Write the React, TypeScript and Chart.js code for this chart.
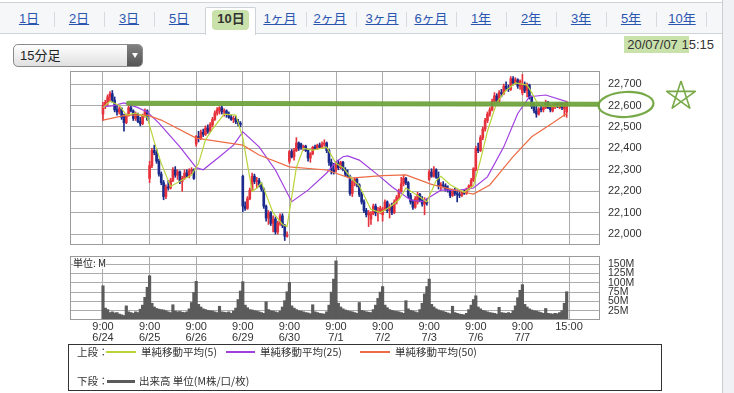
import React, { useEffect, useRef } from 'react';
import { Chart, registerables } from 'chart.js';
Chart.register(...registerables);

// ---------- labels ----------
const tabLabels = ['1日', '2日', '3日', '5日', '10日', '1ヶ月', '2ヶ月', '3ヶ月', '6ヶ月', '1年', '2年', '3年', '5年', '10年'];
const tabCenters = [29, 79, 129, 179, 231, 280, 330, 382, 431, 481, 531, 581, 631, 682];
const tabSeparators = [54, 104, 154, 306, 356, 406, 456, 506, 556, 606, 656, 706];
const selectedTab = '10日';
const dayLabels = ['6/24', '6/25', '6/26', '6/29', '6/30', '7/1', '7/2', '7/3', '7/6', '7/7'];
const dayStartLabel = '9:00';
const endLabel = '15:00';
const dayTicks = [0, 20, 40, 60, 80, 100, 120, 140, 160, 180, 200];
const priceTicks = [22000, 22100, 22200, 22300, 22400, 22500, 22600, 22700];
const volumeTicks = [25, 50, 75, 100, 125, 150];
const timestamp = '20/07/07 15:15';
const intervalLabel = '15分足';

// ---------- 15-minute OHLC (20 bars per day, 10 days) ----------
const opens = [
  22560, 22600, 22615, 22640, 22655, 22625, 22580, 22570, 22585, 22545, 22520, 22555, 22590, 22575, 22540, 22560, 22525, 22515, 22550, 22575,
  22260, 22320, 22390, 22380, 22340, 22280, 22240, 22175, 22220, 22215, 22250, 22300, 22275, 22290, 22245, 22260, 22285, 22270, 22295, 22300,
  22420, 22455, 22445, 22475, 22465, 22495, 22480, 22510, 22535, 22565, 22575, 22590, 22570, 22575, 22560, 22545, 22535, 22540, 22525, 22515,
  22270, 22130, 22120, 22165, 22205, 22270, 22245, 22250, 22230, 22210, 22130, 22075, 22100, 22050, 22070, 22010, 22050, 22085, 22040, 21990,
  22340, 22385, 22360, 22390, 22425, 22420, 22405, 22410, 22390, 22355, 22375, 22405, 22400, 22415, 22405, 22420, 22425, 22390, 22335, 22300,
  22300, 22330, 22310, 22335, 22300, 22280, 22270, 22190, 22245, 22255, 22230, 22185, 22150, 22110, 22090, 22070, 22095, 22130, 22100, 22105,
  22090, 22115, 22150, 22110, 22130, 22100, 22150, 22170, 22200, 22235, 22260, 22240, 22180, 22150, 22125, 22150, 22185, 22160, 22140, 22150,
  22255, 22290, 22270, 22300, 22265, 22225, 22230, 22225, 22210, 22205, 22180, 22200, 22190, 22185, 22180, 22195, 22190, 22210, 22225, 22250,
  22300, 22400, 22390, 22450, 22490, 22530, 22560, 22580, 22620, 22645, 22620, 22660, 22655, 22690, 22680, 22675, 22725, 22705, 22720, 22690,
  22660, 22700, 22670, 22695, 22640, 22595, 22575, 22560, 22585, 22580, 22590, 22615, 22590, 22575, 22600, 22605, 22590, 22610, 22585, 22570,
];
const highs = [
  22615, 22625, 22650, 22665, 22670, 22640, 22600, 22595, 22590, 22560, 22560, 22600, 22605, 22580, 22570, 22565, 22545, 22560, 22585, 22580,
  22340, 22400, 22415, 22395, 22350, 22290, 22250, 22230, 22250, 22260, 22310, 22315, 22300, 22295, 22270, 22300, 22300, 22305, 22310, 22305,
  22460, 22480, 22485, 22490, 22505, 22510, 22520, 22545, 22575, 22590, 22595, 22598, 22585, 22580, 22570, 22555, 22550, 22550, 22535, 22525,
  22275, 22150, 22175, 22215, 22285, 22280, 22265, 22260, 22240, 22215, 22135, 22110, 22105, 22085, 22080, 22060, 22095, 22095, 22045, 22010,
  22390, 22395, 22400, 22450, 22430, 22425, 22415, 22415, 22395, 22380, 22410, 22415, 22420, 22425, 22430, 22440, 22430, 22395, 22350, 22330,
  22340, 22345, 22340, 22340, 22310, 22300, 22275, 22250, 22262, 22260, 22235, 22195, 22160, 22120, 22110, 22105, 22140, 22140, 22125, 22130,
  22125, 22160, 22155, 22140, 22145, 22160, 22180, 22210, 22265, 22275, 22265, 22245, 22190, 22160, 22175, 22195, 22190, 22175, 22170, 22165,
  22300, 22305, 22315, 22305, 22290, 22240, 22245, 22235, 22225, 22210, 22210, 22215, 22205, 22200, 22200, 22205, 22215, 22230, 22260, 22310,
  22410, 22425, 22460, 22500, 22540, 22570, 22590, 22630, 22660, 22655, 22670, 22675, 22700, 22710, 22695, 22735, 22735, 22730, 22725, 22720,
  22745, 22710, 22705, 22700, 22645, 22610, 22600, 22590, 22600, 22595, 22625, 22620, 22600, 22605, 22610, 22612, 22615, 22615, 22610, 22620,
];
const lows = [
  22530, 22585, 22600, 22620, 22615, 22570, 22555, 22560, 22535, 22480, 22515, 22550, 22570, 22530, 22530, 22520, 22505, 22510, 22545, 22530,
  22240, 22310, 22370, 22330, 22270, 22230, 22160, 22165, 22205, 22210, 22245, 22265, 22255, 22235, 22200, 22255, 22265, 22262, 22280, 22255,
  22410, 22430, 22440, 22455, 22460, 22470, 22475, 22500, 22530, 22555, 22560, 22560, 22550, 22545, 22540, 22530, 22520, 22515, 22505, 22500,
  22105, 22110, 22115, 22160, 22200, 22235, 22215, 22220, 22200, 22120, 22060, 22045, 22040, 22010, 22000, 22000, 22040, 22030, 21970, 21985,
  22330, 22355, 22345, 22385, 22390, 22395, 22390, 22385, 22340, 22335, 22370, 22395, 22395, 22400, 22400, 22410, 22380, 22320, 22280, 22280,
  22290, 22300, 22305, 22295, 22270, 22265, 22180, 22175, 22225, 22220, 22175, 22140, 22100, 22080, 22035, 22045, 22090, 22085, 22060, 22095,
  22060, 22110, 22100, 22075, 22090, 22095, 22140, 22165, 22195, 22225, 22230, 22170, 22140, 22115, 22120, 22140, 22150, 22130, 22090, 22135,
  22250, 22265, 22265, 22260, 22210, 22205, 22215, 22200, 22195, 22170, 22175, 22180, 22150, 22170, 22175, 22185, 22185, 22205, 22220, 22245,
  22295, 22380, 22385, 22440, 22480, 22520, 22550, 22575, 22610, 22610, 22615, 22640, 22650, 22670, 22665, 22670, 22695, 22700, 22680, 22675,
  22650, 22660, 22640, 22630, 22585, 22565, 22545, 22555, 22570, 22570, 22585, 22585, 22570, 22570, 22585, 22590, 22585, 22580, 22550, 22545,
];
const closes = [
  22600, 22615, 22640, 22655, 22625, 22580, 22570, 22585, 22545, 22520, 22555, 22590, 22575, 22540, 22560, 22525, 22515, 22550, 22575, 22535,
  22320, 22390, 22380, 22340, 22280, 22240, 22175, 22220, 22215, 22250, 22300, 22275, 22290, 22245, 22260, 22285, 22270, 22295, 22300, 22260,
  22455, 22445, 22475, 22465, 22495, 22480, 22510, 22535, 22565, 22580, 22590, 22570, 22575, 22560, 22545, 22535, 22540, 22525, 22515, 22512,
  22130, 22120, 22165, 22205, 22270, 22245, 22250, 22230, 22210, 22130, 22075, 22100, 22050, 22070, 22010, 22050, 22085, 22040, 21990, 21995,
  22385, 22360, 22390, 22425, 22400, 22405, 22410, 22390, 22355, 22375, 22405, 22400, 22415, 22405, 22420, 22425, 22390, 22335, 22300, 22290,
  22330, 22310, 22335, 22300, 22280, 22270, 22190, 22245, 22255, 22230, 22185, 22150, 22110, 22090, 22100, 22095, 22130, 22100, 22105, 22120,
  22115, 22150, 22110, 22130, 22100, 22150, 22170, 22200, 22235, 22260, 22240, 22180, 22150, 22125, 22165, 22185, 22160, 22140, 22150, 22145,
  22290, 22270, 22300, 22265, 22225, 22230, 22225, 22210, 22205, 22180, 22200, 22190, 22185, 22180, 22195, 22190, 22210, 22225, 22250, 22305,
  22400, 22390, 22450, 22490, 22530, 22560, 22580, 22620, 22645, 22620, 22660, 22655, 22690, 22680, 22675, 22725, 22705, 22720, 22690, 22715,
  22700, 22670, 22695, 22640, 22595, 22575, 22560, 22585, 22580, 22590, 22615, 22590, 22580, 22600, 22605, 22595, 22610, 22590, 22605, 22615,
];

// ---------- volume (M shares) ----------
const volumes = [
  92, 32, 28, 20, 22, 19, 20, 16, 14, 12, 38, 22, 20, 18, 22, 20, 29, 40, 61, 88,
  119, 45, 35, 31, 29, 28, 27, 25, 22, 20, 41, 24, 22, 23, 21, 20, 22, 30, 47, 74,
  104, 42, 35, 30, 28, 26, 25, 24, 22, 20, 37, 22, 21, 20, 22, 18, 24, 32, 55, 78,
  103, 40, 33, 28, 27, 25, 24, 22, 20, 18, 49, 28, 25, 24, 22, 20, 24, 35, 52, 76,
  101, 38, 32, 28, 25, 24, 22, 20, 19, 17, 41, 22, 20, 18, 17, 16, 22, 40, 75, 110,
  159, 45, 35, 30, 27, 25, 23, 22, 20, 18, 47, 26, 24, 22, 21, 20, 28, 40, 58, 75,
  90, 40, 33, 28, 26, 24, 23, 22, 20, 18, 52, 30, 26, 24, 22, 20, 28, 45, 70, 90,
  110, 42, 35, 30, 27, 25, 23, 21, 19, 17, 37, 20, 18, 16, 15, 14, 18, 28, 40, 55,
  65, 35, 30, 26, 24, 22, 20, 19, 18, 16, 34, 20, 19, 18, 20, 18, 25, 38, 60, 80,
  95, 42, 35, 30, 27, 25, 24, 22, 20, 18, 31, 18, 17, 16, 18, 17, 20, 25, 45, 76,
];

// ---------- moving averages (read at bar positions) ----------
const ma5Idx = [0, 3, 7, 10, 14, 19, 22, 25, 29, 34, 38, 41, 44, 47, 52, 57, 60, 64, 66, 68, 73, 77, 79, 83, 86, 90, 96, 100, 103, 107, 110, 115, 119, 123, 127, 130, 135, 139, 143, 145, 149, 155, 159, 162, 165, 169, 173, 177, 182, 184, 187, 193, 199];
const ma5Val = [22590, 22620, 22600, 22555, 22565, 22545, 22430, 22330, 22222, 22252, 22275, 22330, 22440, 22490, 22560, 22555, 22450, 22200, 22214, 22240, 22100, 22045, 22035, 22311, 22400, 22392, 22405, 22330, 22310, 22255, 22225, 22115, 22100, 22125, 22160, 22215, 22180, 22150, 22250, 22270, 22230, 22195, 22225, 22345, 22480, 22615, 22670, 22705, 22695, 22660, 22600, 22595, 22600];
const ma25Idx = [0, 4, 9, 15, 19, 24, 33, 40, 43, 50, 56, 60, 67, 74, 81, 88, 96, 100, 103, 105, 110, 119, 124, 132, 137, 145, 153, 159, 165, 172, 178, 183, 190, 199];
const ma25Val = [22595, 22598, 22612, 22590, 22570, 22518, 22407, 22310, 22300, 22361, 22415, 22477, 22407, 22299, 22151, 22205, 22285, 22337, 22361, 22365, 22345, 22267, 22221, 22159, 22151, 22205, 22205, 22215, 22267, 22407, 22563, 22641, 22649, 22618];
const ma50Idx = [0, 10, 19, 25, 40, 50, 60, 67, 80, 96, 106, 120, 130, 141, 149, 155, 159, 166, 176, 184, 193, 199];
const ma50Val = [22532, 22555, 22555, 22532, 22448, 22431, 22415, 22369, 22314, 22299, 22261, 22273, 22276, 22232, 22210, 22195, 22187, 22229, 22361, 22454, 22518, 22563];

// hand-drawn marker line (user annotation) at ~22,600
const markIdx = [10.9, 212.6];
const markVal = [22610, 22606];

// axis ranges
const priceMin = 21949;
const priceMax = 22761;
const volMax = 172;
const xMin = -14.16;
const xMax = 213.3;

const RED = '#e5323c';
const BLUE = '#1b2b8c';
const C_MA5 = '#b9d43a';
const C_MA25 = '#a03fe0';
const C_MA50 = '#ee6c45';
const GRID = '#ababab';
const NARROW = "'Liberation Sans Narrow', 'Liberation Sans', Arial, sans-serif";
const SANS = "'Liberation Sans', Arial, 'Noto Sans CJK JP', sans-serif";
const CJK = "'Noto Sans CJK JP', 'Liberation Sans', sans-serif";

const boxPlugin = {
  id: 'plotBox',
  afterDraw(chart: any) {
    const { ctx, chartArea: a } = chart;
    ctx.save();
    ctx.strokeStyle = '#9a9a9a';
    ctx.lineWidth = 1;
    ctx.strokeRect(Math.round(a.left) + 0.5, Math.round(a.top) + 0.5, Math.round(a.right - a.left) - 1, Math.round(a.bottom - a.top) - 1);
    ctx.restore();
  },
};

const pts = (xs: number[], ys: number[]) => xs.map((x, k) => ({ x, y: ys[k] }));
const fixedTicks = (vals: number[]) => (s: any) => {
  s.ticks = vals.map((v) => ({ value: v }));
};
const fitY = (s: any) => {
  s.width = 80;
  s.paddingTop = 0;
  s.paddingBottom = 0;
};
const fitX = (h: number) => (s: any) => {
  s.height = h;
  s.paddingLeft = 0;
  s.paddingRight = 0;
};

export default function App() {
  const mainRef = useRef<HTMLCanvasElement>(null);
  const volRef = useRef<HTMLCanvasElement>(null);

  useEffect(() => {
    const idx = closes.map((_, i) => i);
    const colors = idx.map((i) => (closes[i] >= opens[i] ? RED : BLUE));
    const xScaleBase: any = {
      type: 'linear',
      min: xMin,
      max: xMax,
      bounds: 'data',
      offset: false,
      grid: { offset: false, color: GRID, drawTicks: false, lineWidth: 1 },
      border: { display: false },
      afterBuildTicks: fixedTicks(dayTicks),
    };

    const main = new Chart(mainRef.current!, {
      type: 'bar',
      data: {
        datasets: [
          {
            type: 'bar',
            data: idx.map((i) => ({ x: i, y: [lows[i], highs[i]] })) as any,
            backgroundColor: colors,
            barThickness: 1,
            grouped: false,
            order: 4,
          },
          {
            type: 'bar',
            data: idx.map((i) => ({ x: i, y: [opens[i], closes[i]] })) as any,
            backgroundColor: colors,
            barThickness: 2,
            minBarLength: 1,
            grouped: false,
            order: 3,
          },
          { type: 'line', data: pts(ma50Idx, ma50Val) as any, borderColor: C_MA50, borderWidth: 1.2, pointRadius: 0, tension: 0, order: 2 },
          { type: 'line', data: pts(ma25Idx, ma25Val) as any, borderColor: C_MA25, borderWidth: 1.2, pointRadius: 0, tension: 0, order: 2 },
          { type: 'line', data: pts(ma5Idx, ma5Val) as any, borderColor: C_MA5, borderWidth: 1.2, pointRadius: 0, tension: 0, order: 1 },
          {
            type: 'line',
            data: pts(markIdx, markVal) as any,
            borderColor: 'rgba(110,162,58,0.93)',
            borderWidth: 5,
            borderCapStyle: 'round',
            pointRadius: 0,
            order: 0,
          },
        ] as any,
      },
      options: {
        responsive: false,
        animation: false,
        events: [],
        layout: { padding: { left: 10, top: 6, right: 0, bottom: 5 } },
        plugins: { legend: { display: false }, tooltip: { enabled: false } },
        scales: {
          x: { ...xScaleBase, ticks: { display: false }, afterFit: fitX(0) },
          y: {
            type: 'linear',
            position: 'right',
            min: priceMin,
            max: priceMax,
            bounds: 'data',
            afterBuildTicks: fixedTicks(priceTicks),
            grid: { color: GRID, drawTicks: false },
            border: { display: false },
            ticks: {
              autoSkip: false,
              padding: 8,
              color: '#333',
              font: { family: NARROW, size: 11 },
              callback: (v: any) => Number(v).toLocaleString('en-US'),
            },
            afterFit: fitY,
          },
        } as any,
      },
      plugins: [boxPlugin],
    });

    const vol = new Chart(volRef.current!, {
      type: 'bar',
      data: {
        datasets: [
          {
            data: idx.map((i) => ({ x: i, y: volumes[i] })) as any,
            backgroundColor: '#5b5b5b',
            barThickness: 2.5,
            grouped: false,
          },
        ],
      },
      options: {
        responsive: false,
        animation: false,
        events: [],
        layout: { padding: { left: 10, top: 6, right: 0, bottom: 0 } },
        plugins: { legend: { display: false }, tooltip: { enabled: false } },
        scales: {
          x: {
            ...xScaleBase,
            ticks: {
              autoSkip: false,
              maxRotation: 0,
              padding: 1,
              color: '#333',
              font: { family: NARROW, size: 11, lineHeight: 1.05 },
              callback: (v: any) => {
                const d = Math.round(Number(v) / 20);
                return d >= dayLabels.length ? endLabel : [dayStartLabel, dayLabels[d]];
              },
            },
            afterFit: fitX(25),
          },
          y: {
            type: 'linear',
            position: 'right',
            min: 0,
            max: volMax,
            bounds: 'data',
            afterBuildTicks: fixedTicks(volumeTicks),
            grid: { color: GRID, drawTicks: false },
            border: { display: false },
            ticks: {
              autoSkip: false,
              padding: 8,
              color: '#333',
              font: { family: NARROW, size: 10.5 },
              callback: (v: any) => `${v}M`,
            },
            afterFit: fitY,
          },
        } as any,
      },
      plugins: [boxPlugin],
    });

    return () => {
      main.destroy();
      vol.destroy();
    };
  }, []);

  const abs = (s: React.CSSProperties): React.CSSProperties => ({ position: 'absolute', ...s });

  // pentagram for hand-drawn star
  const sc = { x: 681, y: 96, r: 15 };
  const starPts = [0, 2, 4, 1, 3, 0]
    .map((k) => {
      const a = (-90 + k * 72) * (Math.PI / 180);
      return `${(sc.x + sc.r * Math.cos(a)).toFixed(1)},${(sc.y + sc.r * Math.sin(a)).toFixed(1)}`;
    })
    .join(' ');

  return (
    <div style={{ position: 'fixed', left: 0, top: 0, width: 734, height: 393, background: '#fff', overflow: 'hidden', fontFamily: SANS }}>
      {/* tab bar */}
      <div style={abs({ left: 0, top: 2, width: 722, height: 31, background: '#f6f7f9', borderTop: '1px solid #cfd2d6' })} />
      <div style={abs({ left: 0, top: 33, width: 722, height: 1, background: '#cfd2d6' })} />
      <div style={abs({ left: 205, top: 7, width: 49, height: 27, background: '#fff', border: '1px solid #cfd2d6', borderBottom: 'none', borderRadius: '2px 2px 0 0' })} />
      <div style={abs({ left: 212, top: 10, width: 37, height: 20, background: 'rgba(165,205,115,0.6)', borderRadius: 4 })} />
      {tabSeparators.map((x, k) => (
        <div key={'sep' + k} style={abs({ left: x, top: 12, width: 1, height: 15, background: '#d8dadd' })} />
      ))}
      {tabLabels.map((t, k) => (
        <div
          key={t}
          style={abs({
            left: tabCenters[k] - 30,
            top: 10,
            width: 60,
            height: 18,
            lineHeight: '18px',
            textAlign: 'center',
            fontSize: 13,
            color: t === selectedTab ? '#333' : '#2a56b0',
            textDecoration: t === selectedTab ? 'none' : 'underline',
            fontWeight: t === selectedTab ? 'bold' : 'normal',
            fontFamily: SANS,
          })}
        >
          {t}
        </div>
      ))}

      {/* right strip */}
      <div style={abs({ left: 722, top: 0, width: 1, height: 393, background: '#c9ccd0' })} />
      <div style={abs({ left: 723, top: 0, width: 11, height: 393, background: '#eff1f4' })} />

      {/* dropdown */}
      <div style={abs({ left: 13, top: 44, width: 128, height: 21, border: '1px solid #8a8a8a', borderRadius: 5, background: 'linear-gradient(#fefefe, #e0e0e0)', overflow: 'hidden' })}>
        <div style={abs({ right: 0, top: 0, width: 15, height: 21, background: 'linear-gradient(#808080, #555)' })} />
        <div style={abs({ left: 6, top: 0, height: 21, lineHeight: '21px', fontSize: 13, color: '#222', fontFamily: SANS })}>{intervalLabel}</div>
      </div>
      <div style={abs({ left: 132, top: 53, width: 0, height: 0, borderLeft: '3.5px solid transparent', borderRight: '3.5px solid transparent', borderTop: '5px solid #fff' })} />

      {/* timestamp */}
      <div style={abs({ left: 624, top: 36, width: 65, height: 17, background: 'rgba(165,205,115,0.6)' })} />
      <div style={abs({ left: 600, top: 36, width: 114, height: 17, lineHeight: '17px', textAlign: 'right', fontSize: 13, color: '#333', fontFamily: SANS })}>{timestamp}</div>

      {/* charts */}
      <canvas ref={mainRef} width={620} height={185} style={abs({ left: 60, top: 65, width: 620, height: 185 })} />
      <canvas ref={volRef} width={620} height={95} style={abs({ left: 60, top: 250, width: 620, height: 95 })} />
      <div style={abs({ left: 73, top: 257, height: 12, lineHeight: '12px', fontSize: 10, color: '#222', fontFamily: CJK, background: 'rgba(255,255,255,0.8)' })}>単位: M</div>

      {/* annotations (hand drawn) */}
      <svg width={734} height={393} style={abs({ left: 0, top: 0, pointerEvents: 'none' })}>
        <ellipse cx={626} cy={104.5} rx={27.5} ry={12.5} fill="none" stroke="rgba(110,162,58,0.93)" strokeWidth={2.2} transform="rotate(-3 626 104.5)" />
        <polyline points={starPts} fill="none" stroke="rgba(110,162,58,0.93)" strokeWidth={1.6} strokeLinejoin="round" />
      </svg>

      {/* legend */}
      <div style={abs({ left: 68, top: 344, width: 592, height: 45, border: '1px solid #333', background: '#fff' })} />
      {[
        { y: 352, items: [
          { kind: 'text', x: 77, t: '上段：' },
          { kind: 'line', x: 106, w: 30, c: C_MA5, h: 1.5 },
          { kind: 'text', x: 141, t: '単純移動平均(5)' },
          { kind: 'line', x: 226, w: 29, c: C_MA25, h: 1.5 },
          { kind: 'text', x: 260, t: '単純移動平均(25)' },
          { kind: 'line', x: 360, w: 30, c: C_MA50, h: 1.5 },
          { kind: 'text', x: 395, t: '単純移動平均(50)' },
        ] },
        { y: 381, items: [
          { kind: 'text', x: 77, t: '下段：' },
          { kind: 'line', x: 107, w: 28, c: '#5b5b5b', h: 3 },
          { kind: 'text', x: 139, t: '出来高 単位(M株/口/枚)' },
        ] },
      ].map((row, r) =>
        row.items.map((it: any, k) =>
          it.kind === 'text' ? (
            <div key={`l${r}-${k}`} style={abs({ left: it.x, top: row.y - 7, height: 14, lineHeight: '14px', fontSize: 10.5, color: '#333', fontFamily: CJK, whiteSpace: 'nowrap' })}>{it.t}</div>
          ) : (
            <div key={`l${r}-${k}`} style={abs({ left: it.x, top: row.y - it.h / 2, width: it.w, height: it.h, background: it.c })} />
          )
        )
      )}
    </div>
  );
}
